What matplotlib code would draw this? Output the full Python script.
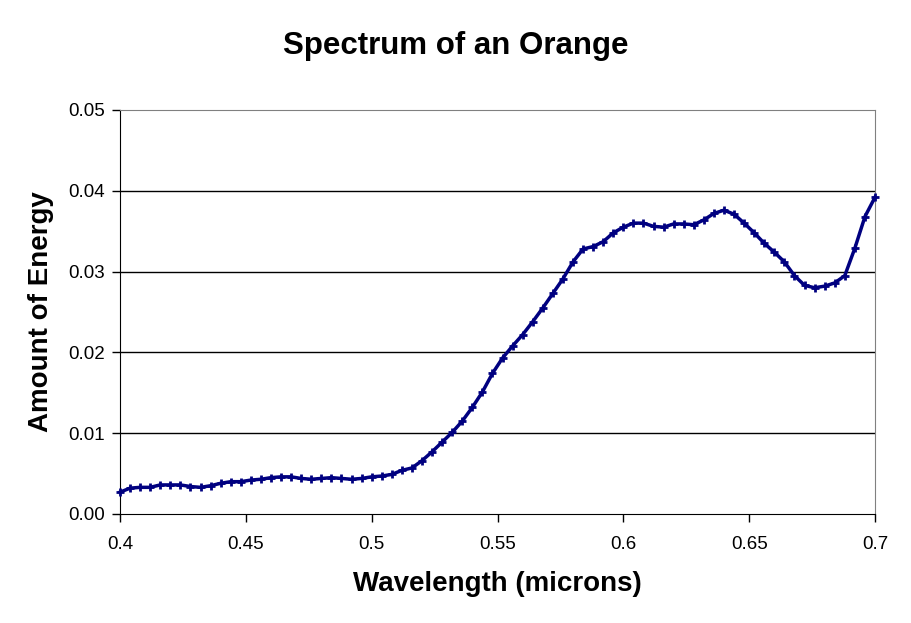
import numpy as np
from matplotlib import pyplot as plt

plt.rcParams['font.family'] = ['Liberation Sans', 'DejaVu Sans']

# wavelength samples (microns), every 0.004 from 0.4 to 0.7
wavelength = np.round(np.arange(76) * 0.004 + 0.4, 3)
energy = [0.0027, 0.0032, 0.0033, 0.0033, 0.0036, 0.0036, 0.0036, 0.0034,
          0.0033, 0.0035, 0.0038, 0.0040, 0.0040, 0.0042, 0.0043, 0.0045,
          0.0046, 0.0046, 0.0044, 0.0043, 0.0044, 0.0045, 0.0044, 0.0043,
          0.0044, 0.0046, 0.0047, 0.0049, 0.0054, 0.0057, 0.0066, 0.0077,
          0.0089, 0.0101, 0.0115, 0.0132, 0.0151, 0.0174, 0.0193, 0.0208,
          0.0222, 0.0238, 0.0255, 0.0273, 0.0291, 0.0312, 0.0328, 0.0331,
          0.0337, 0.0348, 0.0355, 0.0360, 0.0360, 0.0356, 0.0355, 0.0359,
          0.0359, 0.0358, 0.0364, 0.0372, 0.0376, 0.0371, 0.0360, 0.0348,
          0.0335, 0.0324, 0.0312, 0.0295, 0.0283, 0.0280, 0.0282, 0.0286,
          0.0295, 0.0329, 0.0368, 0.0392]

xticks = [0.4, 0.45, 0.5, 0.55, 0.6, 0.65, 0.7]
xticklabels = ['0.4', '0.45', '0.5', '0.55', '0.6', '0.65', '0.7']
yticks = [0.0, 0.01, 0.02, 0.03, 0.04, 0.05]
yticklabels = ['0.00', '0.01', '0.02', '0.03', '0.04', '0.05']

fig = plt.figure(figsize=(9.11, 6.23), dpi=100)
ax = fig.add_axes([120 / 911, 109 / 623, 755 / 911, 404 / 623])

for y in yticks[1:-1]:
    ax.axhline(y, color='black', linewidth=1, zorder=1)

ax.plot(wavelength, energy, color='#000080', linewidth=2.5, marker='+',
        markersize=6, markeredgewidth=2, zorder=3, clip_on=False)

ax.set_xlim(0.4, 0.7)
ax.set_ylim(0, 0.05)
ax.set_xticks(xticks)
ax.set_xticklabels(xticklabels)
ax.set_yticks(yticks)
ax.set_yticklabels(yticklabels)
ax.tick_params(direction='out', length=6, width=1, labelsize=13.5, colors='black')
ax.tick_params(axis='x', pad=10)
ax.tick_params(axis='y', pad=5)

ax.spines['top'].set_color('#808080')
ax.spines['right'].set_color('#808080')
ax.spines['left'].set_color('black')
ax.spines['bottom'].set_color('black')

fig.text(0.5, 1 - 46 / 623, 'Spectrum of an Orange', fontsize=22.5,
         fontweight='bold', ha='center', va='center')
ax.set_xlabel('Wavelength (microns)', fontsize=20, fontweight='bold', labelpad=13)
ax.set_ylabel('Amount of Energy', fontsize=20, fontweight='bold', labelpad=10)

fig.savefig('out.png', dpi=100)
